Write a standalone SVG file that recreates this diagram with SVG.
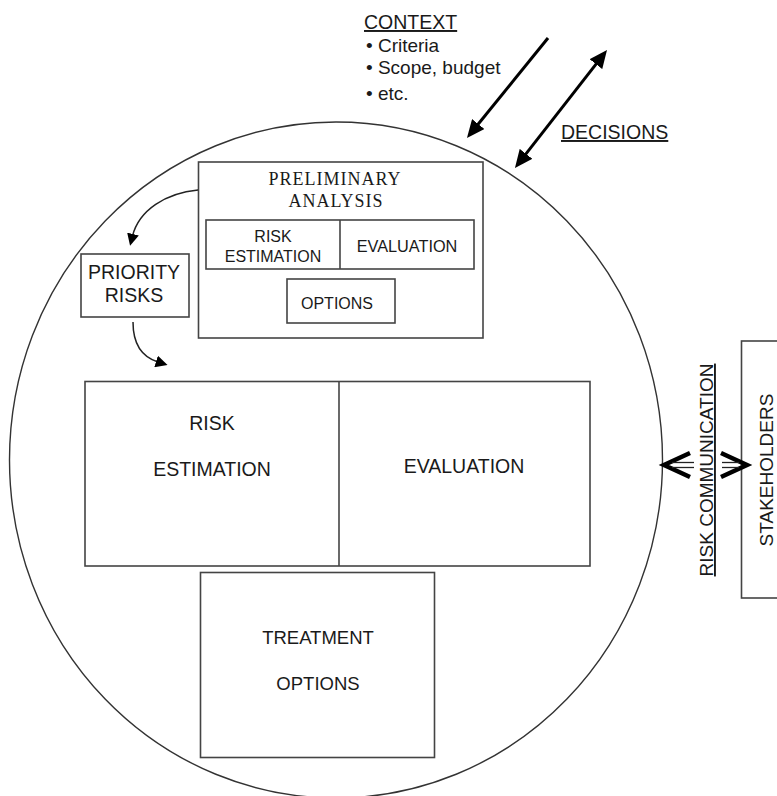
<svg xmlns="http://www.w3.org/2000/svg" width="777" height="796" viewBox="0 0 777 796">
  <style>
    .box { fill: #ffffff; stroke: #444444; stroke-width: 1.6; }
    .ring { fill: none; stroke: #333333; stroke-width: 1.4; }
    .sans { font-family: "Liberation Sans", Arial, sans-serif; fill: #1a1a1a; }
    .serif { font-family: "Liberation Serif", "Times New Roman", serif; fill: #1a1a1a; }
    .mid { text-anchor: middle; }
    .thick { fill: none; stroke: #000000; stroke-width: 3; }
    .thin { fill: none; stroke: #222222; stroke-width: 1.5; }
    .chev { fill: none; stroke: #000000; stroke-width: 4.5; stroke-linejoin: miter; }
    .dbl { fill: none; stroke: #222222; stroke-width: 1.3; }
  </style>
  <defs>
    <marker id="bigHead" markerUnits="userSpaceOnUse" markerWidth="18" markerHeight="16" refX="10" refY="8" orient="auto-start-reverse">
      <path d="M0,0 L18,8 L0,16 z" fill="#000000"/>
    </marker>
    <marker id="smallHead" markerUnits="userSpaceOnUse" markerWidth="12" markerHeight="12" refX="2" refY="6" orient="auto">
      <path d="M0,0 L12,6 L0,12 z" fill="#000000"/>
    </marker>
  </defs>

  <rect width="777" height="796" fill="#ffffff"/>

  <!-- process boundary -->
  <ellipse id="boundary" class="ring" cx="336" cy="460" rx="326.5" ry="338"/>

  <!-- context block -->
  <g id="context">
    <text class="sans" x="364" y="29" font-size="19.5" text-decoration="underline">CONTEXT</text>
    <text class="sans" x="366" y="52" font-size="19">• Criteria</text>
    <text class="sans" x="366" y="74" font-size="19">• Scope, budget</text>
    <text class="sans" x="366" y="100" font-size="19">• etc.</text>
  </g>

  <g id="decisions">
    <text class="sans" x="561" y="139" font-size="19.5" text-decoration="underline">DECISIONS</text>
  </g>

  <g id="preliminary">
    <rect class="box" x="198.5" y="162" width="284.5" height="176"/>
    <text class="serif mid" x="335" y="185" font-size="18" letter-spacing="1">PRELIMINARY</text>
    <text class="serif mid" x="336" y="207" font-size="18" letter-spacing="1">ANALYSIS</text>
    <rect class="box" x="206" y="220" width="268" height="49"/>
    <line class="box" x1="340" y1="220" x2="340" y2="269"/>
    <text class="sans mid" x="273" y="242" font-size="16">RISK</text>
    <text class="sans mid" x="273" y="262" font-size="16">ESTIMATION</text>
    <text class="sans mid" x="407" y="252" font-size="16.3">EVALUATION</text>
    <rect class="box" x="287" y="279" width="108" height="44"/>
    <text class="sans mid" x="337" y="309" font-size="16">OPTIONS</text>
  </g>

  <g id="priority-risks">
    <rect class="box" x="81" y="254" width="108" height="63"/>
    <text class="sans mid" x="134" y="279" font-size="19.5">PRIORITY</text>
    <text class="sans mid" x="134" y="302" font-size="19.5">RISKS</text>
  </g>

  <g id="assessment">
    <rect class="box" x="85" y="381.5" width="505" height="184.5"/>
    <line class="box" x1="339" y1="381.5" x2="339" y2="566"/>
    <text class="sans mid" x="212" y="430" font-size="19.5">RISK</text>
    <text class="sans mid" x="212" y="476" font-size="19.5">ESTIMATION</text>
    <text class="sans mid" x="464" y="473" font-size="19.5">EVALUATION</text>
  </g>

  <g id="treatment">
    <rect class="box" x="200.5" y="572.5" width="234" height="185"/>
    <text class="sans mid" x="318" y="644" font-size="18.5">TREATMENT</text>
    <text class="sans mid" x="318" y="690" font-size="18.5">OPTIONS</text>
  </g>

  <g id="risk-communication">
    <text class="sans mid" transform="translate(713,470) rotate(-90)" font-size="19" text-decoration="underline">RISK COMMUNICATION</text>
  </g>

  <g id="stakeholders">
    <rect class="box" x="741.5" y="341" width="45" height="257"/>
    <text class="sans mid" transform="translate(773,470) rotate(-90)" font-size="19">STAKEHOLDERS</text>
  </g>

  <!-- connectors -->
  <g id="connectors">
    <line class="thick" x1="548" y1="38" x2="472" y2="131.8" marker-end="url(#bigHead)"/>
    <line class="thick" x1="602.1" y1="56.3" x2="519.9" y2="161.7" marker-start="url(#bigHead)" marker-end="url(#bigHead)"/>
    <path class="thin" d="M198,190 C166,193 139,210 132.5,236" marker-end="url(#smallHead)"/>
    <path class="thin" d="M133,322 C133,345 142,357 158,362" marker-end="url(#smallHead)"/>
    <!-- exchange with stakeholders -->
    <polyline class="chev" points="690,453 664,465 690,477"/>
    <line class="dbl" x1="672" y1="462.5" x2="694" y2="462.5"/>
    <line class="dbl" x1="672" y1="467.5" x2="694" y2="467.5"/>
    <polyline class="chev" points="721,453 747,465 721,477"/>
    <line class="dbl" x1="722" y1="462.5" x2="739" y2="462.5"/>
    <line class="dbl" x1="722" y1="467.5" x2="739" y2="467.5"/>
  </g>
</svg>
